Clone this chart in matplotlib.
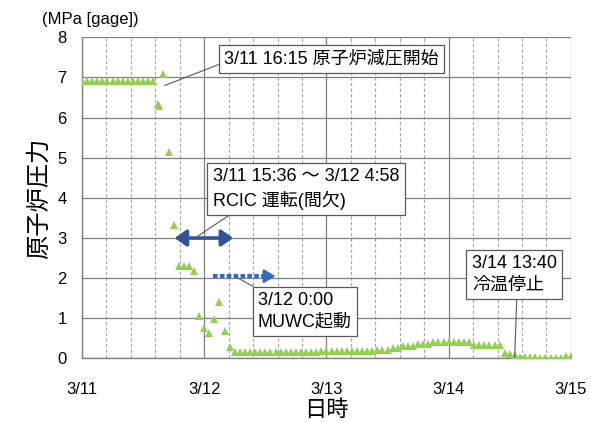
import matplotlib
matplotlib.use('Agg')
import matplotlib.pyplot as plt
from matplotlib.patches import FancyArrowPatch
from matplotlib.ticker import MultipleLocator

plt.rcParams['font.family'] = ['Liberation Sans', 'Noto Sans CJK JP']

# elapsed hours from 3/11 0:00 and reactor pressure (MPa gage)
early_hours = [0, 1, 2, 3, 4, 5, 6, 7, 8, 9, 10, 11, 12, 13, 14,
               14.9, 15.1, 15.9, 17, 18, 19, 20, 21, 22, 23, 24, 25, 26, 27, 28, 29]
early_pressure = [6.9, 6.9, 6.9, 6.9, 6.9, 6.9, 6.9, 6.9, 6.9, 6.9, 6.9, 6.9, 6.9, 6.9, 6.9,
                  6.33, 6.28, 7.08, 5.14, 3.33, 2.3, 2.3, 2.3, 2.18, 1.07, 0.76, 0.63,
                  0.98, 1.4, 0.68, 0.28]

late_hours = list(range(30, 97))
late_pressure = [0.17, 0.17, 0.17, 0.17, 0.17, 0.17, 0.17, 0.17, 0.17, 0.17,
                 0.17, 0.17, 0.17, 0.17, 0.17, 0.17, 0.17,
                 0.19, 0.19, 0.19, 0.19, 0.19, 0.19, 0.19, 0.19, 0.19, 0.19, 0.19,
                 0.22, 0.22, 0.22,
                 0.26, 0.26,
                 0.31, 0.31, 0.31,
                 0.36, 0.36, 0.36,
                 0.40, 0.40, 0.40, 0.40, 0.40, 0.40, 0.40, 0.40,
                 0.34, 0.34, 0.34, 0.34, 0.34, 0.34,
                 0.14, 0.12,
                 0.08,
                 0.03, 0.03, 0.03, 0.03,
                 0.01, 0.01, 0.01, 0.01, 0.01,
                 0.05, 0.05]

day_labels = ['3/11', '3/12', '3/13', '3/14', '3/15']

hours = early_hours + late_hours
pressure = early_pressure + late_pressure
days = [h / 24 for h in hours]

fig = plt.figure(figsize=(5.91, 4.23), dpi=100)
ax = fig.add_axes([0.1387, 0.1525, 0.966 - 0.1387, 0.9118 - 0.1525])

ax.plot(days, pressure, linestyle='none', marker='^', markersize=5.5,
        color='#92D050', markeredgewidth=0, zorder=3)

ax.set_xlim(0, 4)
ax.set_ylim(0, 8)
ax.set_xticks(range(len(day_labels)))
ax.set_xticklabels(day_labels)
ax.xaxis.set_minor_locator(MultipleLocator(0.2))
ax.set_yticks(range(0, 9))
ax.tick_params(axis='both', which='both', length=0, labelsize=12)
ax.tick_params(axis='x', pad=17)
ax.tick_params(axis='y', pad=11)

ax.grid(which='major', color='#7f7f7f', linewidth=0.9)
ax.grid(which='minor', axis='x', color='#a6a6a6', linestyle=(0, (3, 2)), linewidth=0.8)
ax.set_axisbelow(True)
for side in ['top', 'right']:
    ax.spines[side].set_visible(False)
for side in ['left', 'bottom']:
    ax.spines[side].set_color('#7f7f7f')
    ax.spines[side].set_linewidth(1.0)

ax.set_ylabel('原子炉圧力', fontsize=17.5, labelpad=5)
ax.set_xlabel('日時', fontsize=16, labelpad=2)
fig.text(0.071, 0.953, '(MPa [gage])', fontsize=12, va='center', ha='left')

# RCIC operating period (solid) and MUWC injection (dotted)
ax.add_patch(FancyArrowPatch((0.735, 3.0), (1.26, 3.0),
                             arrowstyle='<|-|>,head_length=0.5,head_width=0.35',
                             mutation_scale=14, color='#2F5597', linewidth=2.6, zorder=4))
muwc_blue = '#3468C8'
ax.plot([1.07, 1.54], [2.05, 2.05], color=muwc_blue, linewidth=3,
        linestyle=(0, (1.1, 0.55)), solid_capstyle='butt', dash_capstyle='butt', zorder=4)
ax.add_patch(FancyArrowPatch((1.52, 2.05), (1.605, 2.05),
                             arrowstyle='-|>,head_length=0.5,head_width=0.3',
                             mutation_scale=14, color=muwc_blue, linewidth=1.5, zorder=4))

box = dict(boxstyle='square,pad=0.3', facecolor='white', edgecolor='#595959', linewidth=0.9)
line = dict(arrowstyle='-', color='#595959', linewidth=0.8, shrinkA=0, shrinkB=0)

ax.annotate('3/11 16:15 原子炉減圧開始', xy=(16.25 / 24, 6.8), xytext=(1.165, 7.47),
            fontsize=13, ha='left', va='center', bbox=box,
            arrowprops=dict(line, relpos=(0, 0.28)), zorder=5)
ax.annotate('3/11 15:36 ～ 3/12 4:58\nRCIC 運転(間欠)', xy=(0.925, 3.0), xytext=(1.07, 4.22),
            fontsize=13, ha='left', va='center', bbox=box, linespacing=1.35,
            arrowprops=dict(line, relpos=(0.13, 0)), zorder=5)
ax.annotate('3/12 0:00\nMUWC起動', xy=(1.26, 2.03), xytext=(1.44, 1.17),
            fontsize=13, ha='left', va='center', bbox=box, linespacing=1.35,
            arrowprops=dict(line, relpos=(0.06, 1)), zorder=5)
ax.annotate('3/14 13:40\n冷温停止', xy=(3.54, 0.04), xytext=(3.19, 2.09),
            fontsize=13, ha='left', va='center', bbox=box, linespacing=1.35,
            arrowprops=dict(line, relpos=(0.53, 0)), zorder=5)

fig.savefig('out.png', dpi=100)
